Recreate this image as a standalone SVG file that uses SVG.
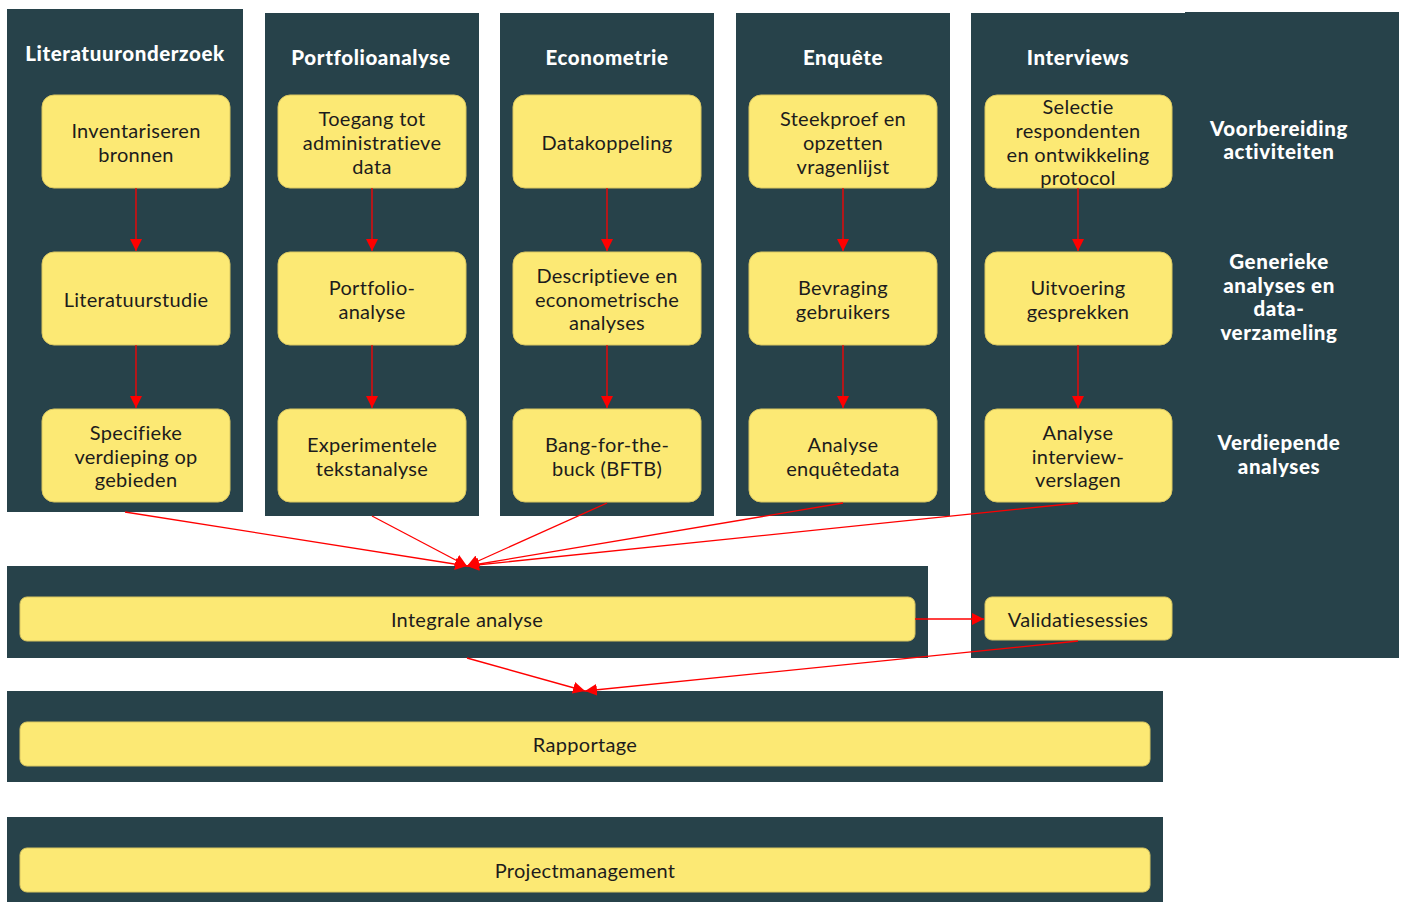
<svg xmlns="http://www.w3.org/2000/svg" width="1402" height="902" viewBox="0 0 1402 902">
<defs>
<style>
.bg{fill:#27424a}
.box{fill:#fce974;stroke:#d9c660;stroke-width:1}
.t{font-family:Lato,"Noto Sans",sans-serif;font-size:20px;letter-spacing:0.3px;fill:#1c1c1c;text-anchor:middle;dominant-baseline:central}
.h{font-family:Lato,"Noto Sans",sans-serif;font-size:20.5px;letter-spacing:0.6px;font-weight:900;fill:#ffffff;text-anchor:middle;dominant-baseline:central}
.c{fill:none;stroke:#ff0000;stroke-width:1.3}
</style>
<marker id="ah" viewBox="0 0 10 10" refX="10" refY="5" markerWidth="12" markerHeight="12" markerUnits="userSpaceOnUse" orient="auto">
<path d="M0,0 L10,5 L0,10 z" fill="#ff0000"/>
</marker>
</defs>
<rect width="1402" height="902" fill="#ffffff"/>

<g id="lanes">
<rect class="bg" x="7" y="9" width="236" height="503"/>
<rect class="bg" x="265" y="13" width="214" height="503"/>
<rect class="bg" x="500" y="13" width="214" height="503"/>
<rect class="bg" x="736" y="13" width="214" height="503"/>
<rect class="bg" x="971" y="13" width="215" height="645"/>
<rect class="bg" x="1185" y="12" width="214" height="646"/>
<rect class="bg" x="7" y="566" width="921" height="92"/>
<rect class="bg" x="7" y="691" width="1156" height="91"/>
<rect class="bg" x="7" y="817" width="1156" height="85"/>
</g>

<g id="headers">
<text class="h" x="125" y="53">Literatuuronderzoek</text>
<text class="h" x="371" y="57">Portfolioanalyse</text>
<text class="h" x="607" y="57">Econometrie</text>
<text class="h" x="843" y="57">Enquête</text>
<text class="h" x="1078" y="57">Interviews</text>
<text class="h" x="1279" y="128">Voorbereiding</text>
<text class="h" x="1279" y="151">activiteiten</text>
<text class="h" x="1279" y="261">Generieke</text>
<text class="h" x="1279" y="285">analyses en</text>
<text class="h" x="1279" y="308">data-</text>
<text class="h" x="1279" y="332">verzameling</text>
<text class="h" x="1279" y="442">Verdiepende</text>
<text class="h" x="1279" y="466">analyses</text>
</g>

<g id="n-inventariseren"><rect class="box" x="42" y="95" width="188" height="93" rx="12"/><text class="t" x="136" y="130">Inventariseren</text><text class="t" x="136" y="154">bronnen</text></g>
<g id="n-literatuurstudie"><rect class="box" x="42" y="252" width="188" height="93" rx="12"/><text class="t" x="136" y="299">Literatuurstudie</text></g>
<g id="n-specifieke"><rect class="box" x="42" y="409" width="188" height="93" rx="12"/><text class="t" x="136" y="432">Specifieke</text><text class="t" x="136" y="456">verdieping op</text><text class="t" x="136" y="479">gebieden</text></g>

<g id="n-toegang"><rect class="box" x="278" y="95" width="188" height="93" rx="12"/><text class="t" x="372" y="118">Toegang tot</text><text class="t" x="372" y="142">administratieve</text><text class="t" x="372" y="166">data</text></g>
<g id="n-portfolio"><rect class="box" x="278" y="252" width="188" height="93" rx="12"/><text class="t" x="372" y="287">Portfolio-</text><text class="t" x="372" y="311">analyse</text></g>
<g id="n-experimentele"><rect class="box" x="278" y="409" width="188" height="93" rx="12"/><text class="t" x="372" y="444">Experimentele</text><text class="t" x="372" y="468">tekstanalyse</text></g>

<g id="n-datakoppeling"><rect class="box" x="513" y="95" width="188" height="93" rx="12"/><text class="t" x="607" y="142">Datakoppeling</text></g>
<g id="n-descriptieve"><rect class="box" x="513" y="252" width="188" height="93" rx="12"/><text class="t" x="607" y="275">Descriptieve en</text><text class="t" x="607" y="299">econometrische</text><text class="t" x="607" y="322">analyses</text></g>
<g id="n-bftb"><rect class="box" x="513" y="409" width="188" height="93" rx="12"/><text class="t" x="607" y="444">Bang-for-the-</text><text class="t" x="607" y="468">buck (BFTB)</text></g>

<g id="n-steekproef"><rect class="box" x="749" y="95" width="188" height="93" rx="12"/><text class="t" x="843" y="118">Steekproef en</text><text class="t" x="843" y="142">opzetten</text><text class="t" x="843" y="166">vragenlijst</text></g>
<g id="n-bevraging"><rect class="box" x="749" y="252" width="188" height="93" rx="12"/><text class="t" x="843" y="287">Bevraging</text><text class="t" x="843" y="311">gebruikers</text></g>
<g id="n-enquetedata"><rect class="box" x="749" y="409" width="188" height="93" rx="12"/><text class="t" x="843" y="444">Analyse</text><text class="t" x="843" y="468">enquêtedata</text></g>

<g id="n-selectie"><rect class="box" x="985" y="95" width="187" height="93" rx="12"/><text class="t" x="1078" y="106">Selectie</text><text class="t" x="1078" y="130">respondenten</text><text class="t" x="1078" y="154">en ontwikkeling</text><text class="t" x="1078" y="177">protocol</text></g>
<g id="n-uitvoering"><rect class="box" x="985" y="252" width="187" height="93" rx="12"/><text class="t" x="1078" y="287">Uitvoering</text><text class="t" x="1078" y="311">gesprekken</text></g>
<g id="n-interviewverslagen"><rect class="box" x="985" y="409" width="187" height="93" rx="12"/><text class="t" x="1078" y="432">Analyse</text><text class="t" x="1078" y="456">interview-</text><text class="t" x="1078" y="479">verslagen</text></g>
<g id="n-validatie"><rect class="box" x="985" y="597" width="187" height="43" rx="7"/><text class="t" x="1078" y="619">Validatiesessies</text></g>

<g id="n-integrale"><rect class="box" x="20" y="597" width="895" height="44" rx="7"/><text class="t" x="467" y="619">Integrale analyse</text></g>
<g id="n-rapportage"><rect class="box" x="20" y="722" width="1130" height="44" rx="7"/><text class="t" x="585" y="744">Rapportage</text></g>
<g id="n-projectmanagement"><rect class="box" x="20" y="848" width="1130" height="44" rx="7"/><text class="t" x="585" y="870">Projectmanagement</text></g>

<g id="connectors">
<path class="c" marker-end="url(#ah)" d="M136,188 L136,251"/>
<path class="c" marker-end="url(#ah)" d="M136,345 L136,408"/>
<path class="c" marker-end="url(#ah)" d="M372,188 L372,251"/>
<path class="c" marker-end="url(#ah)" d="M372,345 L372,408"/>
<path class="c" marker-end="url(#ah)" d="M607,188 L607,251"/>
<path class="c" marker-end="url(#ah)" d="M607,345 L607,408"/>
<path class="c" marker-end="url(#ah)" d="M843,188 L843,251"/>
<path class="c" marker-end="url(#ah)" d="M843,345 L843,408"/>
<path class="c" marker-end="url(#ah)" d="M1078,188 L1078,251"/>
<path class="c" marker-end="url(#ah)" d="M1078,345 L1078,408"/>
<path class="c" marker-end="url(#ah)" d="M125,512 L467,566"/>
<path class="c" marker-end="url(#ah)" d="M372,516 L467,566"/>
<path class="c" marker-end="url(#ah)" d="M607,503 L467,566"/>
<path class="c" marker-end="url(#ah)" d="M843,503 L467,566"/>
<path class="c" marker-end="url(#ah)" d="M1078,503 L467,566"/>
<path class="c" marker-end="url(#ah)" d="M915,619 L984,619"/>
<path class="c" marker-end="url(#ah)" d="M467,658 L585,691"/>
<path class="c" marker-end="url(#ah)" d="M1078,641 L585,691"/>
</g>
</svg>
